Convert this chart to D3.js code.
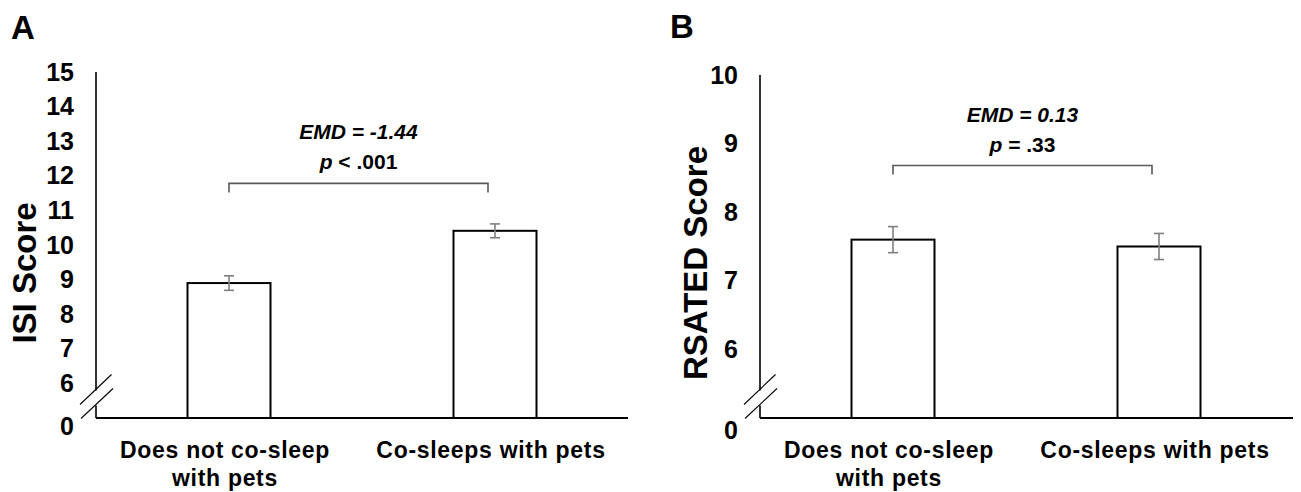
<!DOCTYPE html>
<html><head><meta charset="utf-8">
<script src="https://cdn.jsdelivr.net/npm/d3@7"></script>
<style>
body{margin:0;background:#fff}
svg{display:block}
text{font-family:"Liberation Sans",Arial,sans-serif;font-weight:bold;fill:#000}
</style>
</head><body>
<svg id="c" width="1301" height="492"></svg>
<script>
// ---------- data ----------
const categories = ["Does not co-sleep with pets", "Co-sleeps with pets"];
const categoryLines = [["Does not co-sleep", "with pets"], ["Co-sleeps with pets"]];
const isiMeans = [8.90, 10.41];
const isiErrors = [0.21, 0.20];
const rsatedMeans = [7.60, 7.50];
const rsatedErrors = [0.19, 0.19];
const isiTicks = [6, 7, 8, 9, 10, 11, 12, 13, 14, 15];
const rsatedTicks = [6, 7, 8, 9, 10];
const isiDomain = [5, 15];
const rsatedDomain = [5, 10];
const breakLabel = "0";
const panelLetters = ["A", "B"];
const yTitles = ["ISI Score", "RSATED Score"];
const emdTexts = ["EMD = -1.44", "EMD = 0.13"];
const pTexts = [" < .001", " = .33"];
const bracketLevels = [11.78, 8.68];

// ---------- layout ----------
const panels = [
  {letter: panelLetters[0], title: yTitles[0], means: isiMeans, errs: isiErrors, ticks: isiTicks, domain: isiDomain,
   emd: emdTexts[0], p: pTexts[0], bracket: bracketLevels[0],
   x0: 96, x1: 628, top: 72, bottom: 418, letterX: 11, letterY: 39, titleX: 24, titleY: 273, zeroDy: 9},
  {letter: panelLetters[1], title: yTitles[1], means: rsatedMeans, errs: rsatedErrors, ticks: rsatedTicks, domain: rsatedDomain,
   emd: emdTexts[1], p: pTexts[1], bracket: bracketLevels[1],
   x0: 760, x1: 1293, top: 75, bottom: 418, letterX: 670, letterY: 38, titleX: 695, titleY: 263, zeroDy: 13}
];

const svg = d3.select("#c");

panels.forEach(P => {
  const g = svg.append("g");
  const x = d3.scaleBand().domain(categories).range([P.x0, P.x0 + 532]).paddingInner(0).paddingOuter(0);
  const y = d3.scaleLinear().domain(P.domain).range([P.bottom, P.top]);
  const bw = 83;

  // panel letter
  g.append("text").attr("x", P.letterX).attr("y", P.letterY).attr("font-size", 33).text(P.letter);

  // y-axis title
  g.append("text")
    .attr("transform", `translate(${P.titleX},${P.titleY}) rotate(-90)`)
    .attr("text-anchor", "middle").attr("dominant-baseline", "central")
    .attr("font-size", 33).text(P.title);

  // y axis with tick labels only
  const axis = d3.axisLeft(y).tickValues(P.ticks).tickSize(0).tickPadding(22).tickFormat(d3.format("d"));
  const ag = g.append("g").attr("transform", `translate(${P.x0},0)`).call(axis);
  ag.select(".domain").remove();
  ag.selectAll("text").attr("font-size", 25).attr("font-family", null).style("font-family", '"Liberation Sans",Arial,sans-serif').style("font-weight", "bold");
  // break label "0" at base of axis
  g.append("text").attr("x", P.x0 - 22).attr("y", y(P.domain[0]) + P.zeroDy)
    .attr("text-anchor", "end").attr("dy", "0.32em").attr("font-size", 25).text(breakLabel);

  // axis line with break
  const yb = y(P.domain[0]);
  g.append("line").attr("x1", P.x0).attr("x2", P.x0).attr("y1", y(P.domain[1])).attr("y2", yb - 27.5)
    .attr("stroke", "#000").attr("stroke-width", 1.6);
  g.append("line").attr("x1", P.x0).attr("x2", P.x0).attr("y1", yb - 12.5).attr("y2", yb)
    .attr("stroke", "#000").attr("stroke-width", 1.6);
  // break marks
  [[-16, -13.5, 15.5, -43.5], [-15, 0.5, 17, -29.5]].forEach(s => {
    g.append("line").attr("x1", P.x0 + s[0]).attr("y1", yb + s[1]).attr("x2", P.x0 + s[2]).attr("y2", yb + s[3])
      .attr("stroke", "#000").attr("stroke-width", 1.1);
  });

  // bars
  g.selectAll("rect.bar").data(P.means).join("rect").attr("class", "bar")
    .attr("x", (d, i) => x(categories[i]) + x.bandwidth() / 2 - bw / 2)
    .attr("width", bw)
    .attr("y", d => y(d))
    .attr("height", d => yb - y(d))
    .attr("fill", "#fff").attr("stroke", "#000").attr("stroke-width", 2);

  // baseline
  g.append("line").attr("x1", P.x0).attr("x2", P.x1).attr("y1", yb).attr("y2", yb)
    .attr("stroke", "#000").attr("stroke-width", 1.8);

  // error bars
  P.means.forEach((m, i) => {
    const cx = x(categories[i]) + x.bandwidth() / 2;
    const e = P.errs[i];
    const eg = g.append("g").attr("stroke", "#808080").attr("stroke-width", 1.6);
    eg.append("line").attr("x1", cx).attr("x2", cx).attr("y1", y(m + e)).attr("y2", y(m - e));
    eg.append("line").attr("x1", cx - 5).attr("x2", cx + 5).attr("y1", y(m + e)).attr("y2", y(m + e));
    eg.append("line").attr("x1", cx - 5).attr("x2", cx + 5).attr("y1", y(m - e)).attr("y2", y(m - e));
  });

  // category labels
  categoryLines.forEach((lines, i) => {
    const cx = x(categories[i]) + x.bandwidth() / 2 - 4;
    lines.forEach((ln, k) => {
      g.append("text").attr("x", cx).attr("y", 458 + k * 28).attr("text-anchor", "middle")
        .attr("font-size", 23).style("letter-spacing", "0.7px").text(ln);
    });
  });

  // significance bracket
  const bx1 = x(categories[0]) + x.bandwidth() / 2;
  const bx2 = x(categories[1]) + x.bandwidth() / 2 - 7;
  const by = y(P.bracket);
  g.append("path").attr("d", `M${bx1},${by + 9}V${by}H${bx2}V${by + 9}`)
    .attr("fill", "none").attr("stroke", "#595959").attr("stroke-width", 1.6);
  const mx = (bx1 + bx2) / 2;
  g.append("text").attr("x", mx).attr("y", by - 44).attr("text-anchor", "middle")
    .attr("font-size", 21).attr("font-style", "italic").text(P.emd);
  const pt = g.append("text").attr("x", mx).attr("y", by - 14).attr("text-anchor", "middle").attr("font-size", 21);
  pt.append("tspan").attr("font-style", "italic").text("p");
  pt.append("tspan").text(P.p);
});
</script>
</body></html>
